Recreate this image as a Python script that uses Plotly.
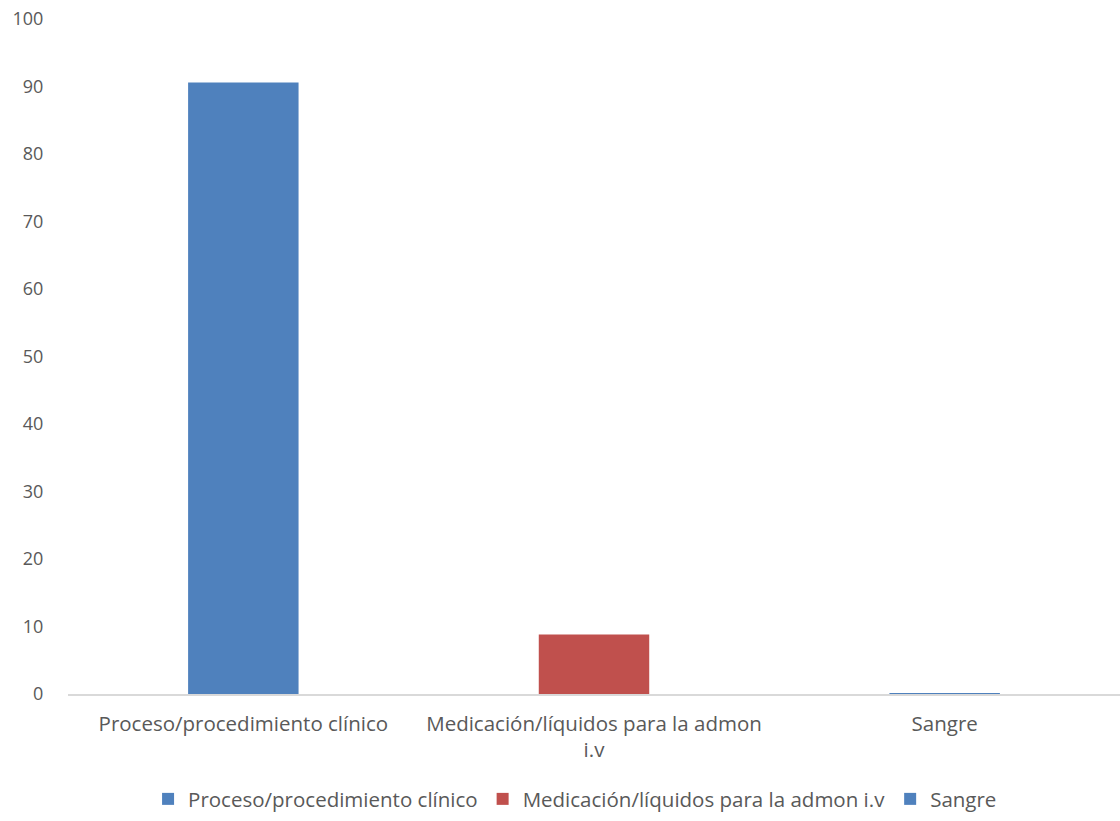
import plotly.graph_objects as go

categories = ["Proceso/procedimiento clínico", "Medicación/líquidos para la admon i.v", "Sangre"]
tick_labels = ["Proceso/procedimiento clínico", "Medicación/líquidos para la admon<br>i.v", "Sangre"]
values = [90.6, 8.8, 0.12]
colors = ["#4F81BD", "#C0504D", "#4F81BD"]

fig = go.Figure()
for cat, val, col in zip(categories, values, colors):
    fig.add_trace(go.Bar(x=[cat], y=[val], name=cat, marker=dict(color=col, line=dict(width=0)),
                         width=0.315))

fig.update_layout(
    width=1120, height=821,
    margin=dict(l=68, r=0, t=19, b=127),
    barmode="overlay",
    plot_bgcolor="white", paper_bgcolor="white",
    font=dict(family="Open Sans, Liberation Sans, sans-serif", size=18, color="#595959"),
    showlegend=True,
    legend=dict(orientation="h", x=0.482, xanchor="center", y=-0.126, yanchor="top",
                font=dict(size=20.5, color="#595959"), itemwidth=30, traceorder="normal"),
)
fig.update_xaxes(tickmode="array", tickvals=categories, ticktext=tick_labels,
                 tickfont=dict(size=20.5), ticklabelstandoff=10,
                 showline=True, linecolor="#D9D9D9", linewidth=2, ticks="", showgrid=False)
fig.update_yaxes(range=[0, 100], dtick=10, showgrid=False, zeroline=False, showline=False,
                 ticks="outside", tickcolor="white", ticklen=20)

fig.write_html("out.html")
